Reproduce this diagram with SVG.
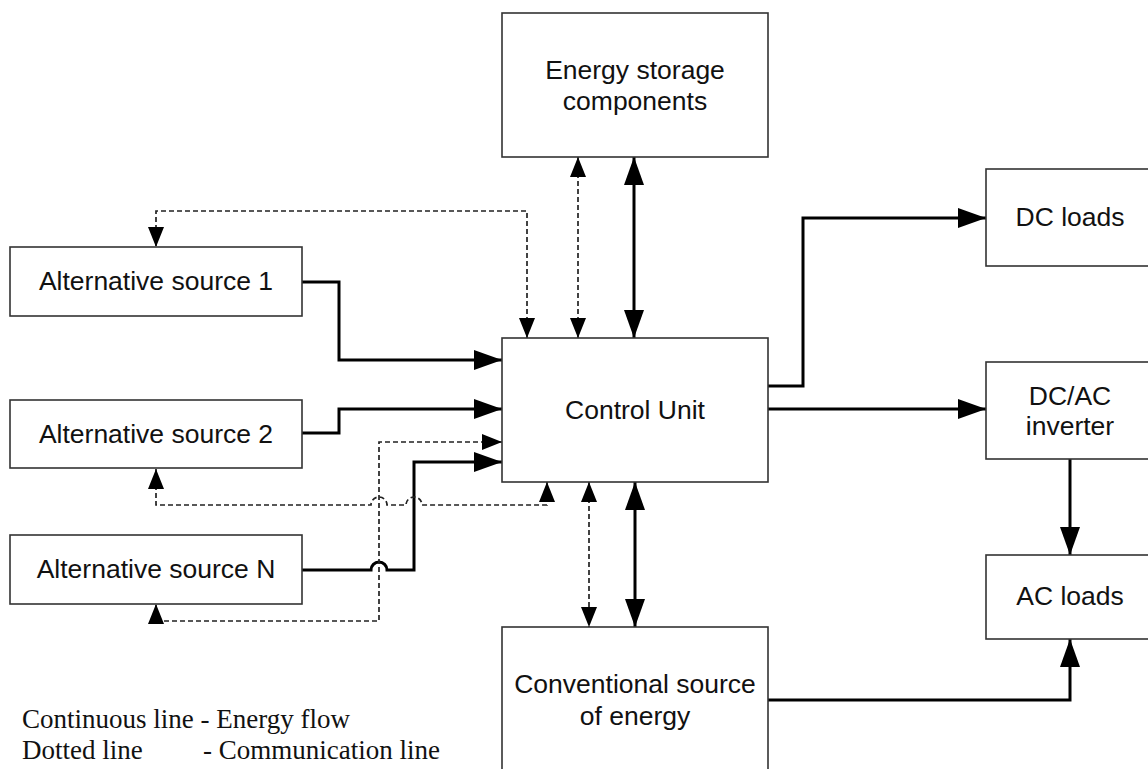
<svg xmlns="http://www.w3.org/2000/svg" width="1148" height="769" viewBox="0 0 1148 769">
  <style>
    .box { fill: #fff; stroke: #333; stroke-width: 1.6; }
    .lbl { font-family: "Liberation Sans", Arial, sans-serif; font-size: 26.5px; fill: #111; text-anchor: middle; }
    .leg { font-family: "Liberation Serif", "Times New Roman", serif; font-size: 27px; fill: #111; }
    .energy { fill: none; stroke: #000; stroke-width: 3; }
    .comm { fill: none; stroke: #222; stroke-width: 1.7; stroke-dasharray: 5 3; }
  </style>
  <defs>
    <marker id="big" markerUnits="userSpaceOnUse" markerWidth="28" markerHeight="20" refX="28" refY="10" orient="auto-start-reverse">
      <path d="M0,0 L28,10 L0,20 z" fill="#000"/>
    </marker>
    <marker id="small" markerUnits="userSpaceOnUse" markerWidth="20" markerHeight="16" refX="20" refY="8" orient="auto-start-reverse">
      <path d="M0,0 L20,8 L0,16 z" fill="#000"/>
    </marker>
  </defs>

  <rect width="1148" height="769" fill="#fff"/>

  <!-- connectors -->
  <g id="connectors">
    <!-- energy flow -->
    <path class="energy" d="M302,282 L339,282 L339,360 L502,360" marker-end="url(#big)"/>
    <path class="energy" d="M302,433 L339,433 L339,409 L502,409" marker-end="url(#big)"/>
    <path class="energy" d="M302,570 L371,570 A8,8 0 0 1 387,570 L414,570 L414,462 L502,462" marker-end="url(#big)"/>
    <path class="energy" d="M634,157 L634,338" marker-start="url(#big)" marker-end="url(#big)"/>
    <path class="energy" d="M635,482 L635,627" marker-start="url(#big)" marker-end="url(#big)"/>
    <path class="energy" d="M768,386 L803,386 L803,218 L986,218" marker-end="url(#big)"/>
    <path class="energy" d="M768,409 L986,409" marker-end="url(#big)"/>
    <path class="energy" d="M1070,459 L1070,555" marker-end="url(#big)"/>
    <path class="energy" d="M768,700 L1070,700 L1070,639" marker-end="url(#big)"/>

    <!-- communication -->
    <path class="comm" d="M527,338 L527,211 L156,211 L156,247" marker-start="url(#small)" marker-end="url(#small)"/>
    <path class="comm" d="M578,157 L578,338" marker-start="url(#small)" marker-end="url(#small)"/>
    <path class="comm" d="M502,442 L379,442 L379,621 L156,621 L156,604" marker-start="url(#small)" marker-end="url(#small)"/>
    <path class="comm" d="M156,469 L156,505 L371,505 A8,8 0 0 1 387,505 L406,505 A8,8 0 0 1 422,505 L547,505 L547,482" marker-start="url(#small)" marker-end="url(#small)"/>
    <path class="comm" d="M589,482 L589,627" marker-start="url(#small)" marker-end="url(#small)"/>
  </g>

  <!-- nodes -->
  <g id="storage">
    <rect class="box" x="502" y="13" width="266" height="144"/>
    <text class="lbl" x="635" y="79">Energy storage</text>
    <text class="lbl" x="635" y="110">components</text>
  </g>
  <g id="alt1">
    <rect class="box" x="10" y="247" width="292" height="69"/>
    <text class="lbl" x="156" y="290">Alternative source 1</text>
  </g>
  <g id="alt2">
    <rect class="box" x="10" y="400" width="292" height="68"/>
    <text class="lbl" x="156" y="443">Alternative source 2</text>
  </g>
  <g id="altN">
    <rect class="box" x="10" y="535" width="292" height="69"/>
    <text class="lbl" x="156" y="578">Alternative source N</text>
  </g>
  <g id="control">
    <rect class="box" x="502" y="338" width="266" height="144"/>
    <text class="lbl" x="635" y="419">Control Unit</text>
  </g>
  <g id="conventional">
    <rect class="box" x="502" y="627" width="266" height="150"/>
    <text class="lbl" x="635" y="693">Conventional source</text>
    <text class="lbl" x="635" y="725">of energy</text>
  </g>
  <g id="dcloads">
    <rect class="box" x="986" y="169" width="170" height="97"/>
    <text class="lbl" x="1070" y="226">DC loads</text>
  </g>
  <g id="inverter">
    <rect class="box" x="986" y="362" width="170" height="97"/>
    <text class="lbl" x="1070" y="405">DC/AC</text>
    <text class="lbl" x="1070" y="435">inverter</text>
  </g>
  <g id="acloads">
    <rect class="box" x="986" y="555" width="170" height="84"/>
    <text class="lbl" x="1070" y="605">AC loads</text>
  </g>

  <!-- legend -->
  <g id="legend">
    <text class="leg" x="22" y="728">Continuous line - Energy flow</text>
    <text class="leg" x="22" y="759">Dotted line</text>
    <text class="leg" x="203" y="759">- Communication line</text>
  </g>
</svg>
